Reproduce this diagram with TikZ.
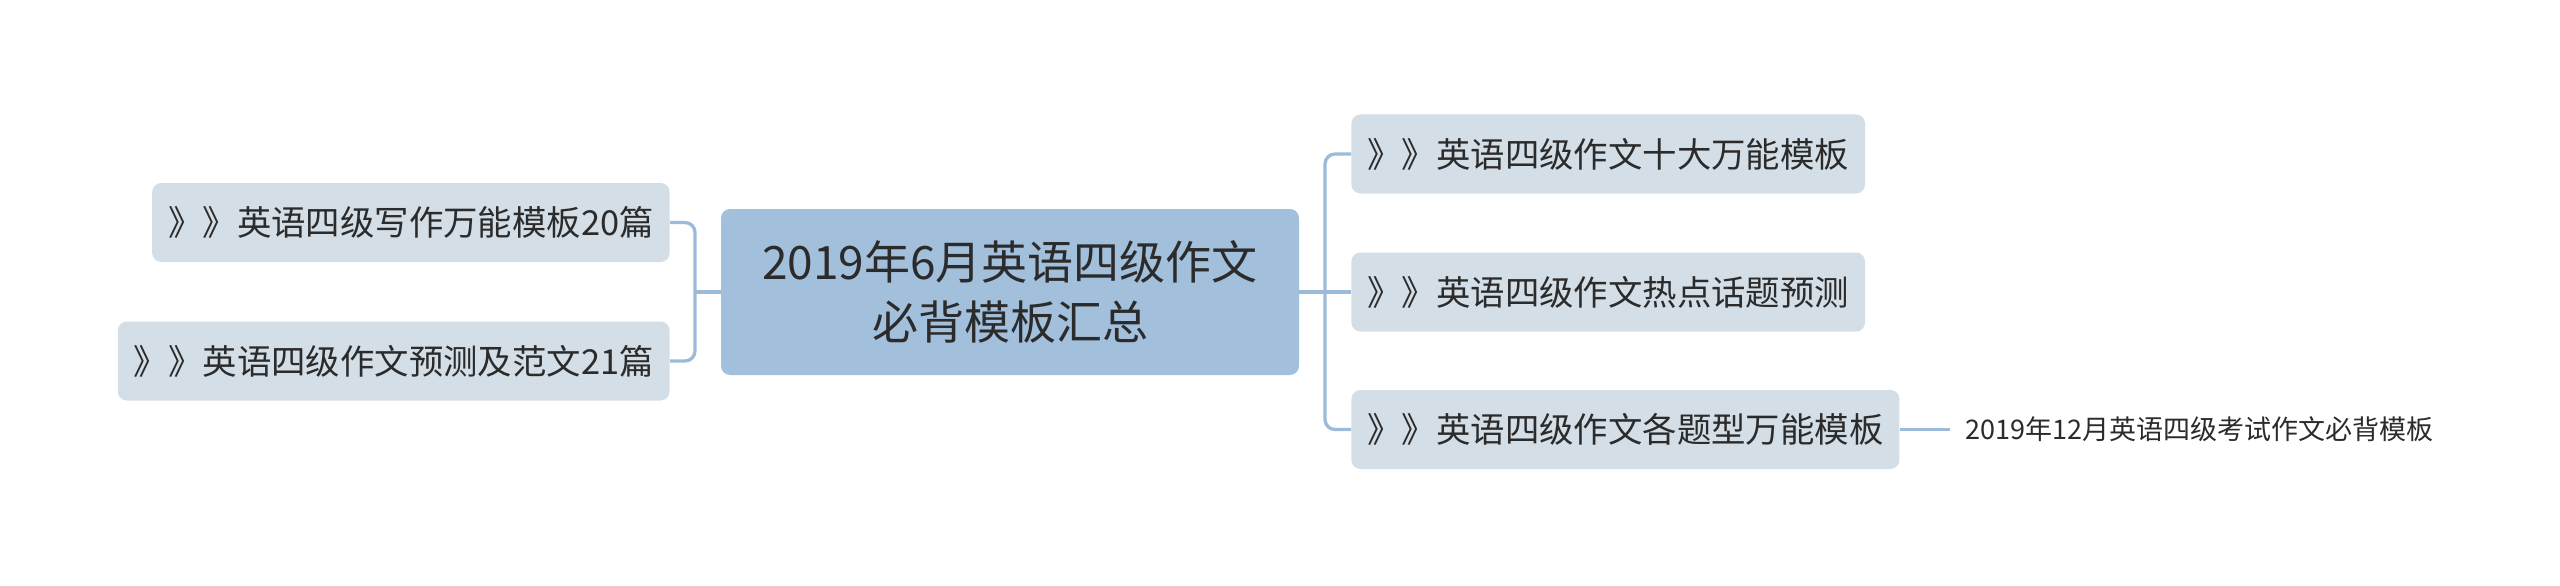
\documentclass[tikz,border=0pt]{standalone}
\usepackage{fontspec}
\newfontfamily\cjk{Noto Sans CJK SC}
\usepackage{tikz}
\definecolor{topicfill}{HTML}{A2BFDB}
\definecolor{branchfill}{HTML}{D3DEE6}
\definecolor{linkcol}{HTML}{9CBBD9}
\definecolor{txtcol}{HTML}{2B2B2B}
\tikzset{%
    topic/.style={
      rectangle,
      rounded corners=4.5pt,
      fill=topicfill,
      text=txtcol,
      align=center,
      minimum width=289pt,
      minimum height=83pt,
      font=\cjk\fontsize{23}{30}\selectfont
    },
    branch/.style={
      rectangle,
      rounded corners=4.5pt,
      fill=branchfill,
      text=txtcol,
      inner xsep=8pt,
      minimum height=39.5pt,
      font=\cjk\fontsize{17.2}{20}\selectfont
    },
    leaf/.style={
      text=txtcol,
      inner xsep=7.5pt,
      font=\cjk\fontsize{13.5}{16}\selectfont
    },
    link/.style={
      draw=linkcol,
      line width=1.65pt,
      rounded corners=5pt
    }
  }
\begin{document}
\begin{tikzpicture}[x=0.5pt, y=0.5pt]
      \useasboundingbox (0,0) rectangle (2560,585);

      \node [topic] (main) at (1010,293) {2019年6月英语四级作文\\必背模板汇总};

      \node [branch, anchor=east] (l1) at (670,362.5) {》》英语四级写作万能模板20篇};
      \node [branch, anchor=east] (l2) at (670,224) {》》英语四级作文预测及范文21篇};

      \node [branch, anchor=west] (r1) at (1351,431) {》》英语四级作文十大万能模板};
      \node [branch, anchor=west] (r2) at (1351,293) {》》英语四级作文热点话题预测};
      \node [branch, anchor=west] (r3) at (1351,155.5) {》》英语四级作文各题型万能模板};

      \node [leaf, anchor=west] (r3a) at (1950,155.5) {2019年12月英语四级考试作文必背模板};

      \coordinate (lbus) at (695,293);
      \coordinate (rbus) at (1325,293);

      \draw [link] (main.west) -- (lbus);
      \draw [link] (l1.east) -| (lbus) |- (l2.east);

      \draw [link] (main.east) -- (r2.west);
      \draw [link] (r1.west) -| (rbus) |- (r3.west);

      \draw [link] (r3.east) -- (r3a.west);
    \end{tikzpicture}
\end{document}
